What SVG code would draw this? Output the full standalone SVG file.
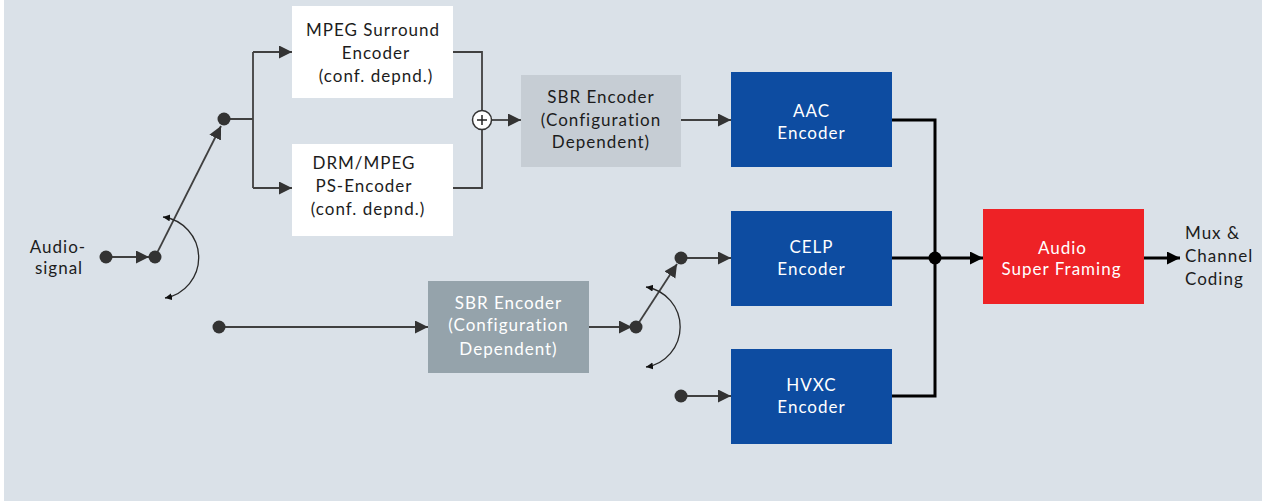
<svg xmlns="http://www.w3.org/2000/svg" width="1262" height="501" viewBox="0 0 1262 501">
<defs>
<style>
.t{font-family:"Lato","Open Sans","Liberation Sans",sans-serif;font-size:17px;letter-spacing:1px;text-anchor:middle;fill:#1c1c1c}
.w{fill:#ffffff}
.ln{fill:none;stroke:#404040;stroke-width:1.8}
.thin{fill:none;stroke:#2a2a2a;stroke-width:1.3}
.bk{fill:none;stroke:#000;stroke-width:3}
.dot{fill:#333}
</style>
<marker id="ah" markerUnits="userSpaceOnUse" markerWidth="14" markerHeight="14" refX="13" refY="6.5" orient="auto"><path d="M0,0 L13,6.5 L0,13 z" fill="#333"/></marker>
<marker id="ahb" markerUnits="userSpaceOnUse" markerWidth="14" markerHeight="14" refX="13" refY="6.5" orient="auto"><path d="M0,0 L13,6.5 L0,13 z" fill="#000"/></marker>
<marker id="sm" markerUnits="userSpaceOnUse" markerWidth="9" markerHeight="9" refX="7" refY="3.5" orient="auto-start-reverse"><path d="M0,0 L7,3.5 L0,7 z" fill="#111"/></marker>
</defs>
<rect x="0" y="0" width="1262" height="501" fill="#ffffff"/>
<rect x="4" y="0" width="1258" height="501" fill="#dae1e8"/>

<g id="connectors">
<line class="ln" x1="106" y1="257" x2="149" y2="257" marker-end="url(#ah)"/>
<line class="ln" x1="155" y1="257" x2="221" y2="126" marker-end="url(#ah)"/>
<path class="ln" d="M224,119 H253 M253,52 V188"/>
<line class="ln" x1="253" y1="52" x2="292" y2="52" marker-end="url(#ah)"/>
<line class="ln" x1="253" y1="188" x2="292" y2="188" marker-end="url(#ah)"/>
<path class="ln" d="M453,52 H482 V188 H453"/>
<line class="ln" x1="492" y1="120" x2="521" y2="120" marker-end="url(#ah)"/>
<line class="ln" x1="681" y1="120" x2="731" y2="120" marker-end="url(#ah)"/>
<line class="ln" x1="219" y1="327" x2="428" y2="327" marker-end="url(#ah)"/>
<line class="ln" x1="589" y1="327" x2="632" y2="327" marker-end="url(#ah)"/>
<line class="ln" x1="636" y1="327" x2="677" y2="264" marker-end="url(#ah)"/>
<line class="ln" x1="681" y1="258" x2="731" y2="258" marker-end="url(#ah)"/>
<line class="ln" x1="681" y1="396" x2="731" y2="396" marker-end="url(#ah)"/>
<path class="thin" d="M163,217 A41,41 0 0 1 165,298" marker-start="url(#sm)" marker-end="url(#sm)"/>
<path class="thin" d="M646,287 A40.5,40.5 0 0 1 646,367" marker-start="url(#sm)" marker-end="url(#sm)"/>
<path class="bk" d="M892,120 H935 V396 H892"/>
<line class="bk" x1="892" y1="258" x2="983" y2="258" marker-end="url(#ahb)"/>
<line class="bk" x1="1144" y1="258" x2="1180" y2="258" marker-end="url(#ahb)"/>
<circle cx="935" cy="258" r="6.5" fill="#000"/>
<circle class="dot" cx="106" cy="257" r="6.5"/>
<circle class="dot" cx="155" cy="257" r="6.5"/>
<circle class="dot" cx="224" cy="119" r="6.5"/>
<circle class="dot" cx="219" cy="327" r="6.5"/>
<circle class="dot" cx="636" cy="327" r="6.5"/>
<circle class="dot" cx="681" cy="258" r="6.5"/>
<circle class="dot" cx="681" cy="396" r="6.5"/>
</g>

<g id="sum">
<circle cx="482" cy="120" r="9.5" fill="#fff" stroke="#333" stroke-width="1.5"/>
<path d="M477,120 H487 M482,115 V125" stroke="#222" stroke-width="1.5"/>
</g>

<g id="audio-signal">
<text class="t" x="58" y="253">Audio-</text>
<text class="t" x="59" y="274">signal</text>
</g>

<g id="mpeg-surround">
<rect x="292" y="6" width="161" height="92" fill="#fff"/>
<text class="t" x="373" y="36">MPEG Surround</text>
<text class="t" x="376" y="59">Encoder</text>
<text class="t" x="376" y="82">(conf. depnd.)</text>
</g>

<g id="drm-mpeg">
<rect x="292" y="144" width="161" height="92" fill="#fff"/>
<text class="t" x="364" y="169">DRM/MPEG</text>
<text class="t" x="364" y="192">PS-Encoder</text>
<text class="t" x="368" y="215">(conf. depnd.)</text>
</g>

<g id="sbr-top">
<rect x="521" y="75" width="160" height="92" fill="#c6cdd4"/>
<text class="t" x="601" y="103">SBR Encoder</text>
<text class="t" x="601" y="126">(Configuration</text>
<text class="t" x="601" y="148">Dependent)</text>
</g>

<g id="sbr-bottom">
<rect x="428" y="281" width="161" height="92" fill="#95a3ab"/>
<text class="t w" x="508.5" y="309">SBR Encoder</text>
<text class="t w" x="508.5" y="331">(Configuration</text>
<text class="t w" x="508.5" y="355">Dependent)</text>
</g>

<g id="aac">
<rect x="731" y="72" width="161" height="95" fill="#0d4ca1"/>
<text class="t w" x="811.5" y="117">AAC</text>
<text class="t w" x="811.5" y="139">Encoder</text>
</g>

<g id="celp">
<rect x="731" y="211" width="161" height="95" fill="#0d4ca1"/>
<text class="t w" x="811.5" y="253">CELP</text>
<text class="t w" x="811.5" y="275">Encoder</text>
</g>

<g id="hvxc">
<rect x="731" y="349" width="161" height="95" fill="#0d4ca1"/>
<text class="t w" x="811.5" y="391">HVXC</text>
<text class="t w" x="811.5" y="413">Encoder</text>
</g>

<g id="audio-super-framing">
<rect x="983" y="209" width="161" height="95" fill="#ee2226"/>
<text class="t w" x="1062.5" y="254">Audio</text>
<text class="t w" x="1061.5" y="275">Super Framing</text>
</g>

<g id="mux">
<text class="t" style="text-anchor:start" x="1185" y="239">Mux &amp;</text>
<text class="t" style="text-anchor:start" x="1185" y="262">Channel</text>
<text class="t" style="text-anchor:start" x="1185" y="285">Coding</text>
</g>
</svg>
